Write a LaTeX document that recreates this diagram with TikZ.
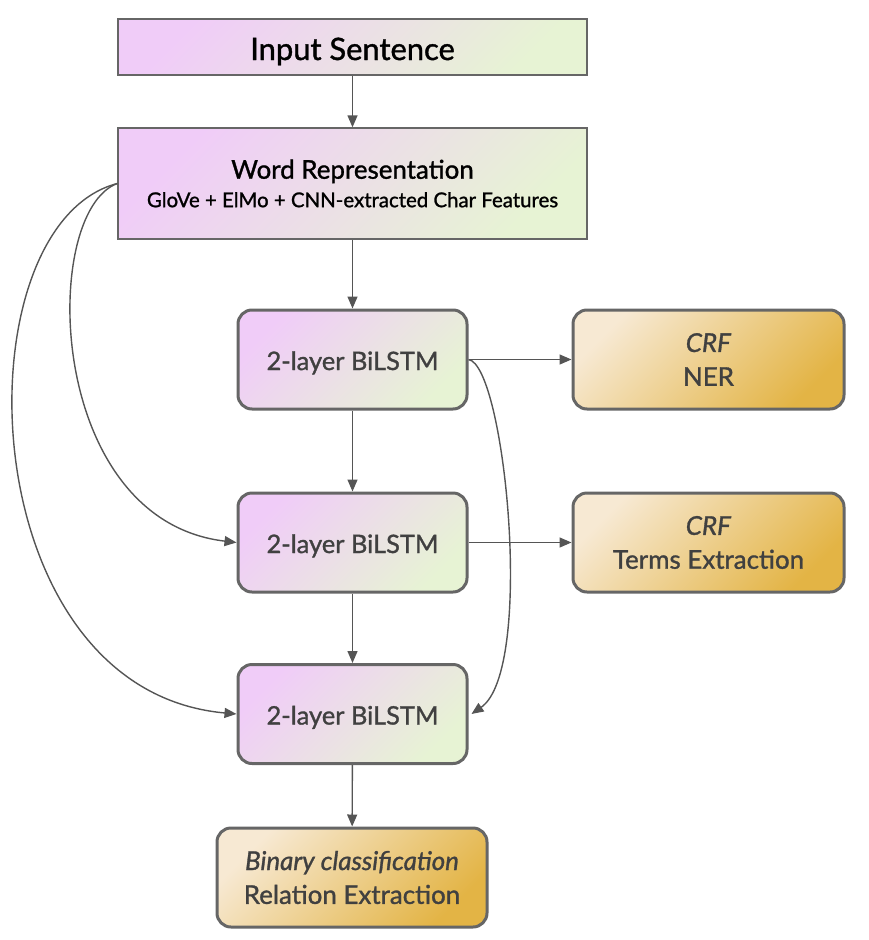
\documentclass[tikz,border=0pt]{standalone}
\usepackage{fontspec}
\setmainfont{Lato}[FakeBold=1.2]
\newfontfamily\mdfont{Lato}[FakeBold=1.2,ItalicFont=Lato Italic,ItalicFeatures={FakeBold=1.2}]
\usetikzlibrary{arrows.meta}
\definecolor{purp}{HTML}{F0CCF8}
\definecolor{grn}{HTML}{E7F3D4}
\definecolor{org1}{HTML}{F7E9D3}
\definecolor{org2}{HTML}{E3B445}
\definecolor{bord}{HTML}{666666}
\definecolor{lin}{HTML}{555555}
\definecolor{txt}{HTML}{404040}
\tikzset{
  sqbox/.style={draw=bord, line width=1.4bp, top color=purp, bottom color=grn, shading angle=45, minimum width=469bp, align=center, inner sep=0pt, text=black},
  lstm/.style={draw=bord, line width=3bp, rounded corners=14bp, top color=purp, bottom color=grn, shading angle=45, minimum width=229bp, minimum height=99bp, inner sep=0pt, text height=21bp, text depth=0bp, text=txt, font=\mdfont\fontsize{25.5}{32}\selectfont},
  outbox/.style={draw=bord, line width=3bp, rounded corners=14bp, top color=org1, bottom color=org2, shading angle=45, minimum height=99bp, align=center, inner sep=0pt, text=txt, font=\mdfont\fontsize{26}{34}\selectfont},
  conn/.style={draw=lin, line width=1.4bp, -{Triangle[length=12bp,width=10bp]}},
}
\begin{document}
\begin{tikzpicture}[x=1bp,y=-1bp]
\useasboundingbox (0,0) rectangle (869,940);
\node[draw=bord, line width=1.4bp, top color=purp, bottom color=grn, shading angle=45, minimum width=469bp, minimum height=56bp, inner sep=0pt, text height=26bp, text depth=0bp, text=black, font=\mdfont\fontsize{31}{36}\selectfont] (inp) at (352.5,47) {Input Sentence};
\node[sqbox, minimum height=111bp, font=\mdfont] (word) at (352.5,183.5) {{\fontsize{26}{30}\selectfont Word Representation}\\[8bp]{\fontsize{20.5}{22}\selectfont GloVe + ElMo + CNN-extracted Char Features}};
\node[lstm] (b1) at (352.5,359.5) {2-layer BiLSTM};
\node[lstm] (b2) at (352.5,542.5) {2-layer BiLSTM};
\node[lstm] (b3) at (352.5,714) {2-layer BiLSTM};
\node[outbox, minimum width=271bp] (ner) at (708.5,359.5) {\textit{CRF}\\NER};
\node[outbox, minimum width=271bp] (terms) at (708.5,542.5) {\textit{CRF}\\Terms Extraction};
\node[outbox, minimum width=270bp] (bin) at (352,877.5) {\textit{Binary classification}\\Relation Extraction};
\draw[conn] (inp) -- (word);
\draw[conn] (word) -- (b1);
\draw[conn] (b1) -- (b2);
\draw[conn] (b2) -- (b3);
\draw[conn] (b3) -- (bin);
\draw[conn] (b1.east) -- (ner.west);
\draw[conn] (b2.east) -- (terms.west);
\draw[conn] (b1.east) .. controls (505,365) and (535,670) .. ([xshift=3bp]b3.east);
\draw[conn] (word.west) .. controls (40,212) and (45,520) .. (b2.west);
\draw[conn] (word.west) .. controls (-42,225) and (-32,690) .. (b3.west);
\end{tikzpicture}
\end{document}
